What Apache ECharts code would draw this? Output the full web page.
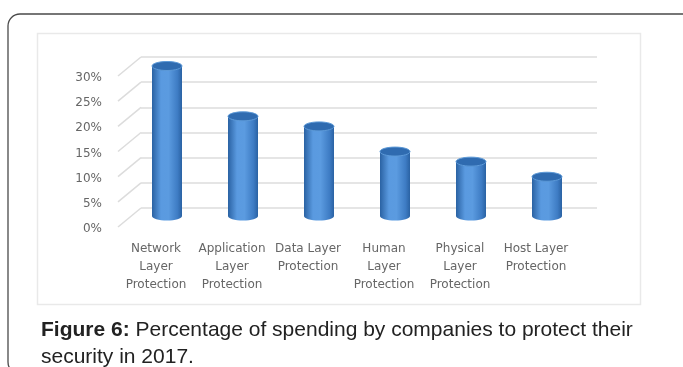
<!DOCTYPE html>
<html>
<head>
<meta charset="utf-8">
<style>html,body{margin:0;padding:0;background:#fff;}#c{width:683px;height:367px;}</style>
<script src="https://cdn.jsdelivr.net/npm/echarts@6/dist/echarts.min.js"></script>
</head>
<body>
<div id="c"></div>
<script>
const categories = ["Network\nLayer\nProtection", "Application\nLayer\nProtection", "Data Layer\nProtection", "Human\nLayer\nProtection", "Physical\nLayer\nProtection", "Host Layer\nProtection"];
const spending = [30, 20, 18, 13, 11, 8];
const yTicks = [0, 5, 10, 15, 20, 25, 30];
const captionBold = "Figure 6:";
const captionRest = " Percentage of spending by companies to protect their";
const captionLine2 = "security in 2017.";

const DX = 23, DY = 19; // depth offset (front -> back)
const chart = echarts.init(document.getElementById('c'));
const font = "'DejaVu Sans', sans-serif";
const capFont = '"Liberation Sans", Arial, sans-serif';

const bodyGrad = new echarts.graphic.LinearGradient(0, 0, 1, 0, [
  {offset: 0, color: '#2a62a3'},
  {offset: 0.3, color: '#5a9ae0'},
  {offset: 0.55, color: '#5b9be0'},
  {offset: 0.85, color: '#3e7cc4'},
  {offset: 1, color: '#2a62a3'}
]);

chart.setOption({
  animation: false,
  graphic: [
    {type: 'rect', z: -20, shape: {x: 8, y: 14, width: 700, height: 360, r: 12},
     style: {fill: '#fff', stroke: '#4a4a4a', lineWidth: 1.3}},
    {type: 'rect', z: -10, shape: {x: 37.5, y: 33.5, width: 603, height: 271},
     style: {fill: '#fff', stroke: '#e9e9e9', lineWidth: 1.5}},
    {type: 'text', left: 41, top: 320, z: 10,
     style: {text: '{b|' + captionBold + '}' + captionRest, font: '21px ' + capFont, fill: '#222',
       rich: {b: {fontWeight: 'bold', fontSize: 21, fontFamily: capFont, fill: '#222'}}}},
    {type: 'text', left: 41, top: 347, z: 10,
     style: {text: captionLine2, font: '21px ' + capFont, fill: '#222'}}
  ],
  grid: [
    {left: 141, top: 57, width: 456, height: 151},
    {left: 118, top: 78, width: 456, height: 151}
  ],
  xAxis: [
    {type: 'category', data: categories, gridIndex: 0, axisLine: {show: false}, axisTick: {show: false}, axisLabel: {show: false}},
    {type: 'category', data: categories, gridIndex: 1, axisLine: {show: false}, axisTick: {show: false},
     axisLabel: {interval: 0, margin: 11, color: '#666', fontSize: 12, lineHeight: 18, fontFamily: font}}
  ],
  yAxis: [
    {type: 'value', gridIndex: 0, min: 0, max: 30, interval: 5, axisLabel: {show: false},
     splitLine: {lineStyle: {color: '#dcdcdc', width: 1.5}}},
    {type: 'value', gridIndex: 1, min: 0, max: 30, interval: 5, splitLine: {show: false},
     axisLabel: {formatter: '{value}%', margin: 16, color: '#666', fontSize: 12, fontFamily: font}}
  ],
  series: [
    {
      type: 'custom', xAxisIndex: 0, yAxisIndex: 0, z: 1,
      data: yTicks.map(v => [0, v]),
      renderItem: function (params, api) {
        const y = api.coord([0, api.value(1)])[1];
        const x = params.coordSys.x;
        return {type: 'line', shape: {x1: x - DX, y1: y + DY, x2: x, y2: y},
                style: {stroke: '#dcdcdc', lineWidth: 1.5}};
      }
    },
    {
      type: 'custom', xAxisIndex: 0, yAxisIndex: 0, z: 5,
      data: spending.map((v, i) => [i, v]),
      renderItem: function (params, api) {
        const top = api.coord([api.value(0), api.value(1)]);
        const base = api.coord([api.value(0), 0]);
        const cx = top[0] - DX / 2 - 0.5;
        const ty = top[1] + DY / 2 - 0.5;
        const by = base[1] + DY / 2 - 1.5;
        const rx = 15, ry = 4.5;
        return {
          type: 'group',
          children: [
            {type: 'ellipse', shape: {cx: cx, cy: by, rx: rx, ry: ry}, style: {fill: bodyGrad}},
            {type: 'rect', shape: {x: cx - rx, y: ty, width: 2 * rx, height: by - ty}, style: {fill: bodyGrad}},
            {type: 'ellipse', shape: {cx: cx, cy: ty, rx: rx, ry: ry},
             style: {fill: '#2f6bb0', stroke: '#5d9ad8', lineWidth: 1}}
          ]
        };
      }
    }
  ]
});
</script>
</body>
</html>
